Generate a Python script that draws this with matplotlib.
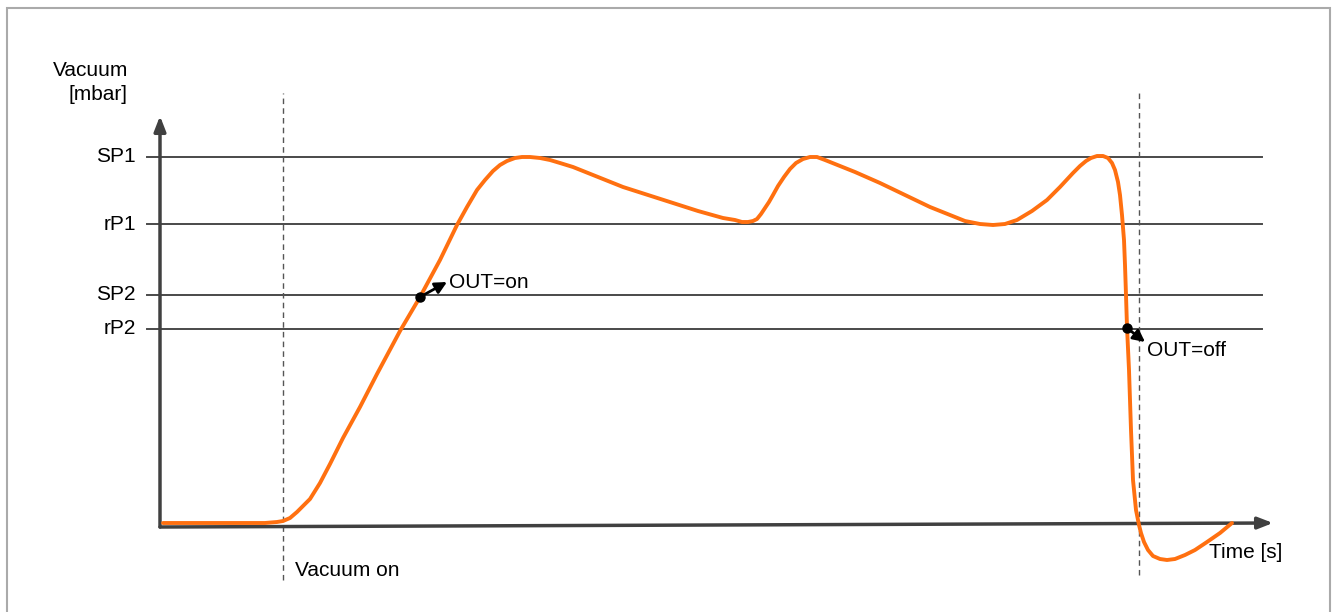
import matplotlib
matplotlib.use("Agg")
import matplotlib.pyplot as plt
from matplotlib.patches import FancyArrowPatch

plt.rcParams["font.family"] = ["Liberation Sans", "DejaVu Sans"]

# --- data (time / vacuum in arbitrary units, 0 = origin of the axes) ---
levels = ["SP1", "rP1", "SP2", "rP2"]
level_values = [368, 301, 230, 196]

time = [3, 60, 105, 117, 123, 130, 137, 143, 150, 160, 170, 183, 200, 217,
        240, 260, 280, 297, 307, 317, 325, 333, 340, 347, 355, 362, 370,
        380, 390, 400, 413, 438, 463, 488, 513, 538, 563, 575, 582, 588,
        593, 597, 601, 605, 609, 613, 618, 624, 630, 636, 643, 650, 657,
        665, 675, 695, 720, 745, 770, 790, 805, 820, 833, 845, 857, 872,
        887, 900, 913, 920, 926, 931, 937, 943, 948, 952, 955, 958, 960,
        962, 964, 965, 966, 967, 969, 971, 973, 976, 979, 981, 984, 988,
        993, 1000, 1007, 1015, 1025, 1035, 1047, 1060, 1072]
vacuum = [2, 2, 2, 3, 4, 7, 13, 19, 26, 42, 61, 87, 118, 151,
          194, 228, 265, 300, 318, 335, 345, 354, 360, 364, 367, 368, 368,
          367, 365, 362, 358, 348, 338, 330, 322, 314, 307, 305, 303, 303,
          304, 306, 311, 317, 323, 330, 339, 348, 356, 362, 366, 368, 368,
          365, 361, 353, 342, 330, 318, 310, 304, 301, 300, 301, 305, 314,
          325, 338, 352, 359, 364, 367, 369, 369, 367, 362, 355, 343, 330,
          310, 285, 260, 230, 198, 155, 95, 45, 15, 0, -8, -17, -25,
          -31, -34, -35, -34, -30, -25, -17, -8, 2]

t_vacuum_on = 123
t_vacuum_off = 979
out_on = (260, 228)
out_off = (967, 197)

orange = "#FF7010"
grey = "#4a4a4a"

fig = plt.figure(figsize=(13.34, 6.12), dpi=100)
ax = fig.add_axes([0, 0, 1, 1])
ax.set_xlim(-160, 1174)
ax.set_ylim(-87, 525)
ax.axis("off")

# outer frame (top, left, right only)
ax.plot([-153, -153, 1170, 1170], [-87, 517, 517, -87], color="#aaaaaa", lw=1.5,
        solid_joinstyle="miter")

# threshold lines and labels
for name, val in zip(levels, level_values):
    ax.plot([-13, 1102], [val, val], color=grey, lw=1.4)
    ax.text(-24, val, name, ha="right", va="center", fontsize=15)

# dashed markers for vacuum on / off
ax.plot([t_vacuum_on, t_vacuum_on], [-55, 432], color="#555555", lw=1,
        ls=(0, (4, 3)))
ax.plot([t_vacuum_off, t_vacuum_off], [-50, 432], color="#555555", lw=1,
        ls=(0, (4, 3)))

# axes with arrow heads
ax.annotate("", xy=(0, 409), xytext=(0, -2),
            arrowprops=dict(arrowstyle="-|>,head_length=0.9,head_width=0.35",
                            color="#404040", lw=2.5, shrinkA=0, shrinkB=0))
ax.annotate("", xy=(1113, 2), xytext=(0, -2),
            arrowprops=dict(arrowstyle="-|>,head_length=0.9,head_width=0.35",
                            color="#404040", lw=2.5, shrinkA=0, shrinkB=0))

# vacuum curve
ax.plot(time, vacuum, color=orange, lw=2.8, solid_capstyle="round",
        solid_joinstyle="round", zorder=3)

# switching points
for pt, tip, label, txt in [(out_on, (287, 243), "OUT=on", (289, 243)),
                            (out_off, (985, 183), "OUT=off", (987, 175))]:
    ax.plot(*pt, "o", color="black", ms=6.5, zorder=4)
    ax.add_patch(FancyArrowPatch(pt, tip,
                                 arrowstyle="-|>,head_length=7,head_width=3.5",
                                 color="black", lw=2, shrinkA=0, shrinkB=0,
                                 zorder=4))
    ax.text(*txt, label, ha="left", va="center", fontsize=15)

# axis labels
ax.text(-32, 455, "Vacuum", ha="right", va="center", fontsize=15)
ax.text(-32, 430, "[mbar]", ha="right", va="center", fontsize=15)
ax.text(135, -45, "Vacuum on", ha="left", va="center", fontsize=15)
ax.text(1049, -28, "Time [s]", ha="left", va="center", fontsize=15)

fig.savefig("out.png", dpi=100)
